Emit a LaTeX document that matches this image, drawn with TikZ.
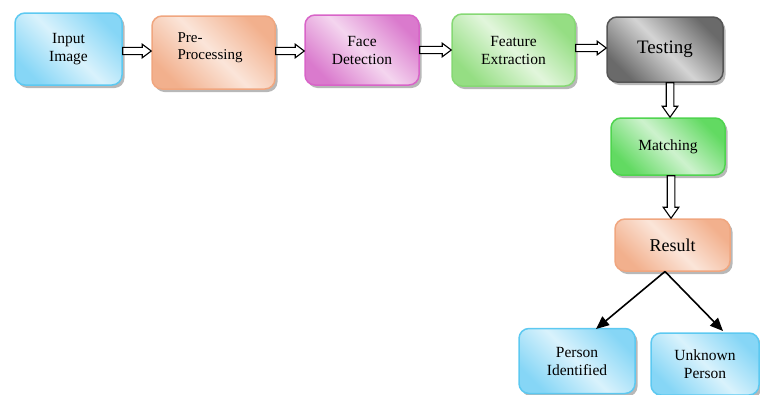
\documentclass[tikz,border=0pt]{standalone}
\usepackage{fontspec}
\setmainfont{Liberation Serif}
\newfontfamily\tnr{Liberation Serif}
\usetikzlibrary{arrows.meta,shadows,calc}
\definecolor{bluedraw}{HTML}{5DC9F1}\definecolor{bluedark}{HTML}{86D6F6}\definecolor{bluelight}{HTML}{D9F2FC}
\definecolor{ordraw}{HTML}{F0A67F}\definecolor{ordark}{HTML}{F2B08D}\definecolor{orlight}{HTML}{FBE5D9}
\definecolor{magdraw}{HTML}{D864C8}\definecolor{magdark}{HTML}{DA7ACD}\definecolor{maglight}{HTML}{F4D5EF}
\definecolor{grdraw}{HTML}{86D874}\definecolor{grdark}{HTML}{95DE83}\definecolor{grlight}{HTML}{E2F6DC}
\definecolor{mgdraw}{HTML}{4FD44F}\definecolor{mgdark}{HTML}{62DA62}\definecolor{mglight}{HTML}{CDF2CD}
\definecolor{gydraw}{HTML}{555555}\definecolor{gydark}{HTML}{6A6A6A}\definecolor{gylight}{HTML}{D4D4D4}
\tikzset{
  x=1pt,y=-1pt,
  box/.style={rounded corners=10pt, line width=1.5pt, align=center, inner sep=0pt,
    font=\tnr\fontsize{15.5}{18}\selectfont,
    drop shadow={shadow xshift=2.5pt, shadow yshift=-3pt, fill=black!35, opacity=0.8}},
  shd/.style n args={3}{draw=#1, left color=#2, right color=#2, middle color=#3, shading angle=135},
  blk/.style={line width=1.1pt, draw=black, fill=white},
  sol/.style={line width=1.6pt, -{Triangle[length=13pt,width=11pt]}}
}
\newcommand\hblock[2]{\path[blk] let \p1=#1, \p2=#2 in
  (\x1,{\y1+3.6pt}) -- ({\x2-9pt},{\y1+3.6pt}) -- ({\x2-9pt},{\y1+6.8pt}) -- (\x2,\y1)
  -- ({\x2-9pt},{\y1-6.8pt}) -- ({\x2-9pt},{\y1-3.6pt}) -- (\x1,{\y1-3.6pt}) -- cycle;}
\newcommand\vblock[2]{\path[blk] let \p1=#1, \p2=#2 in
  ({\x1-3.8pt},\y1) -- ({\x1-3.8pt},{\y2+11pt}) -- ({\x1-7.8pt},{\y2+11pt}) -- (\x1,\y2)
  -- ({\x1+7.8pt},{\y2+11pt}) -- ({\x1+3.8pt},{\y2+11pt}) -- ({\x1+3.8pt},\y1) -- cycle;}
\begin{document}
\begin{tikzpicture}
\useasboundingbox (0,0) rectangle (760,394);
\node[box, shd={bluedraw}{bluedark}{bluelight}, minimum width=107pt, minimum height=72pt] (inp) at (68.5,49) {Input\\Image};
\node[box, shd={ordraw}{ordark}{orlight}, minimum width=123pt, minimum height=73pt] (pre) at (213.5,52.5) {};
\node[font=\tnr\fontsize{15}{17}\selectfont, align=left, anchor=west] (pret) at (174,48) {Pre-\\Processing};
\node[box, shd={magdraw}{magdark}{maglight}, minimum width=114pt, minimum height=70pt] (face) at (362,50) {Face\\Detection};
\node[box, shd={grdraw}{grdark}{grlight}, minimum width=123pt, minimum height=72pt] (feat) at (513.5,50) {Feature\\Extraction};
\node[box, shd={gydraw}{gydark}{gylight}, minimum width=116pt, minimum height=65pt, font=\tnr\fontsize{19}{22}\selectfont] (test) at (665,49.5) {Testing};
\node[box, shd={mgdraw}{mgdark}{mglight}, minimum width=114pt, minimum height=57pt] (match) at (668,146.5) {Matching};
\node[box, shd={ordraw}{ordark}{orlight}, minimum width=115pt, minimum height=52pt, font=\tnr\fontsize{18}{21}\selectfont] (res) at (672.5,245) {Result};
\node[box, shd={bluedraw}{bluedark}{bluelight}, minimum width=116pt, minimum height=65pt] (pid) at (577,361) {Person\\Identified};
\node[box, shd={bluedraw}{bluedark}{bluelight}, minimum width=108pt, minimum height=62pt] (unk) at (705,364) {Unknown\\Person};
\hblock{(inp.east |- 0,51)}{(pre.west |- 0,51)}
\hblock{(pre.east |- 0,51)}{(face.west |- 0,51)}
\hblock{(face.east |- 0,50)}{(feat.west |- 0,50)}
\hblock{(feat.east |- 0,48)}{(test.west |- 0,48)}
\vblock{(test.south -| 670,0)}{(match.north -| 670,0)}
\vblock{(match.south -| 671,0)}{(res.north -| 671,0)}
\coordinate (split) at (665,271.5);
\coordinate (pend) at (596,329);
\coordinate (uend) at (723,331);
\draw[sol] (split) -- (pend);
\draw[sol] (split) -- (uend);
\end{tikzpicture}
\end{document}
